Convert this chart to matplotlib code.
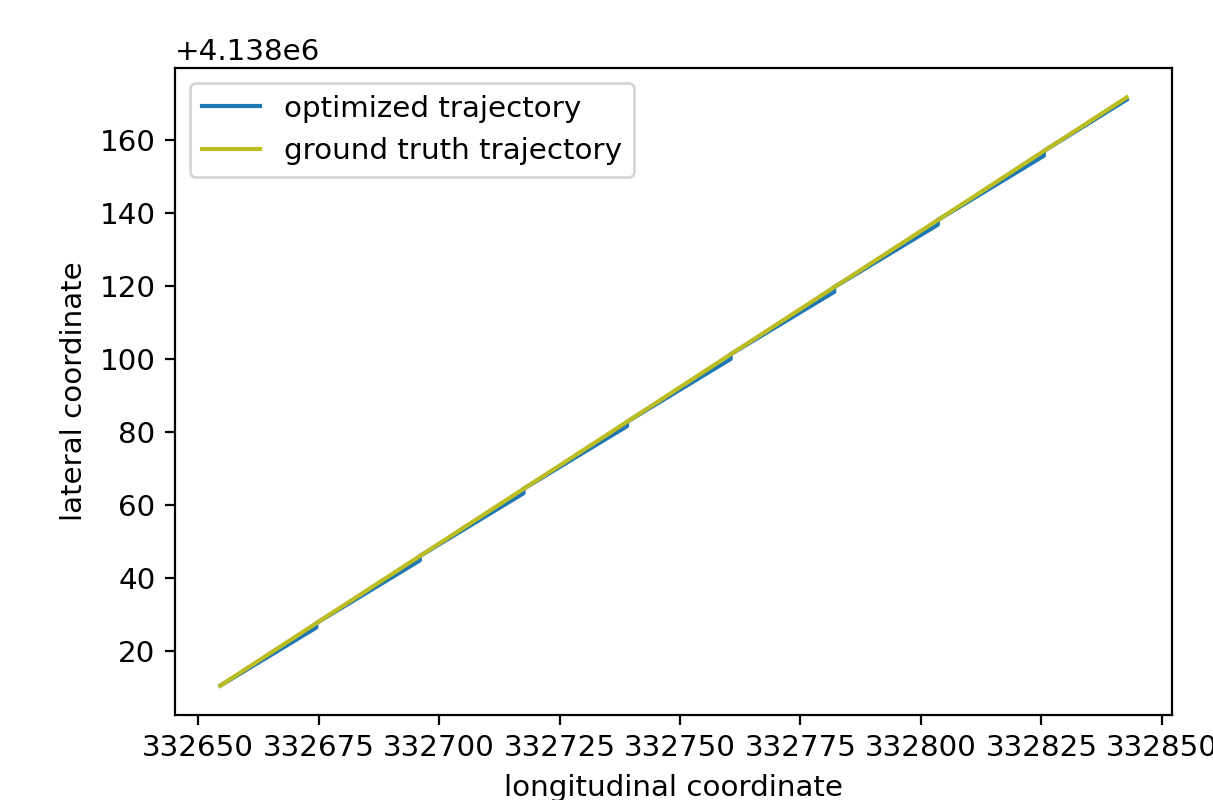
import matplotlib.pyplot as plt

# ground truth path (straight run) and optimized path with drift between corrections
gt_x = [332654.6, 332674.5, 332696.0, 332717.5, 332739.0, 332760.5, 332782.0, 332803.5, 332825.5, 332842.7]
gt_y = [4138010.5, 4138027.6, 4138046.0, 4138064.4, 4138082.8, 4138101.3, 4138119.7, 4138138.1, 4138157.0, 4138171.7]

opt_x = [332654.6, 332674.5, 332674.5, 332696.0, 332696.0, 332717.5, 332717.5, 332739.0, 332739.0,
         332760.5, 332760.5, 332782.0, 332782.0, 332803.5, 332803.5, 332825.5, 332825.5, 332842.7]
opt_y = [4138010.5, 4138026.4, 4138027.6, 4138044.8, 4138046.0, 4138063.2, 4138064.4, 4138081.6, 4138082.8,
         4138100.0, 4138101.3, 4138118.4, 4138119.7, 4138136.8, 4138138.1, 4138155.7, 4138157.0, 4138171.1]

plt.rcParams["font.size"] = 10.6

fig = plt.figure(figsize=(6.065, 4.0), dpi=200)
ax = fig.add_axes([0.1443, 0.10625, 0.8219, 0.80875])
ax.plot(opt_x, opt_y, color="tab:blue", label="optimized trajectory")
ax.plot(gt_x, gt_y, color="tab:olive", label="ground truth trajectory")
ax.set_xlabel("longitudinal coordinate")
ax.set_ylabel("lateral coordinate")
ax.legend(loc="upper left")
fig.savefig("out.png", dpi=200)
